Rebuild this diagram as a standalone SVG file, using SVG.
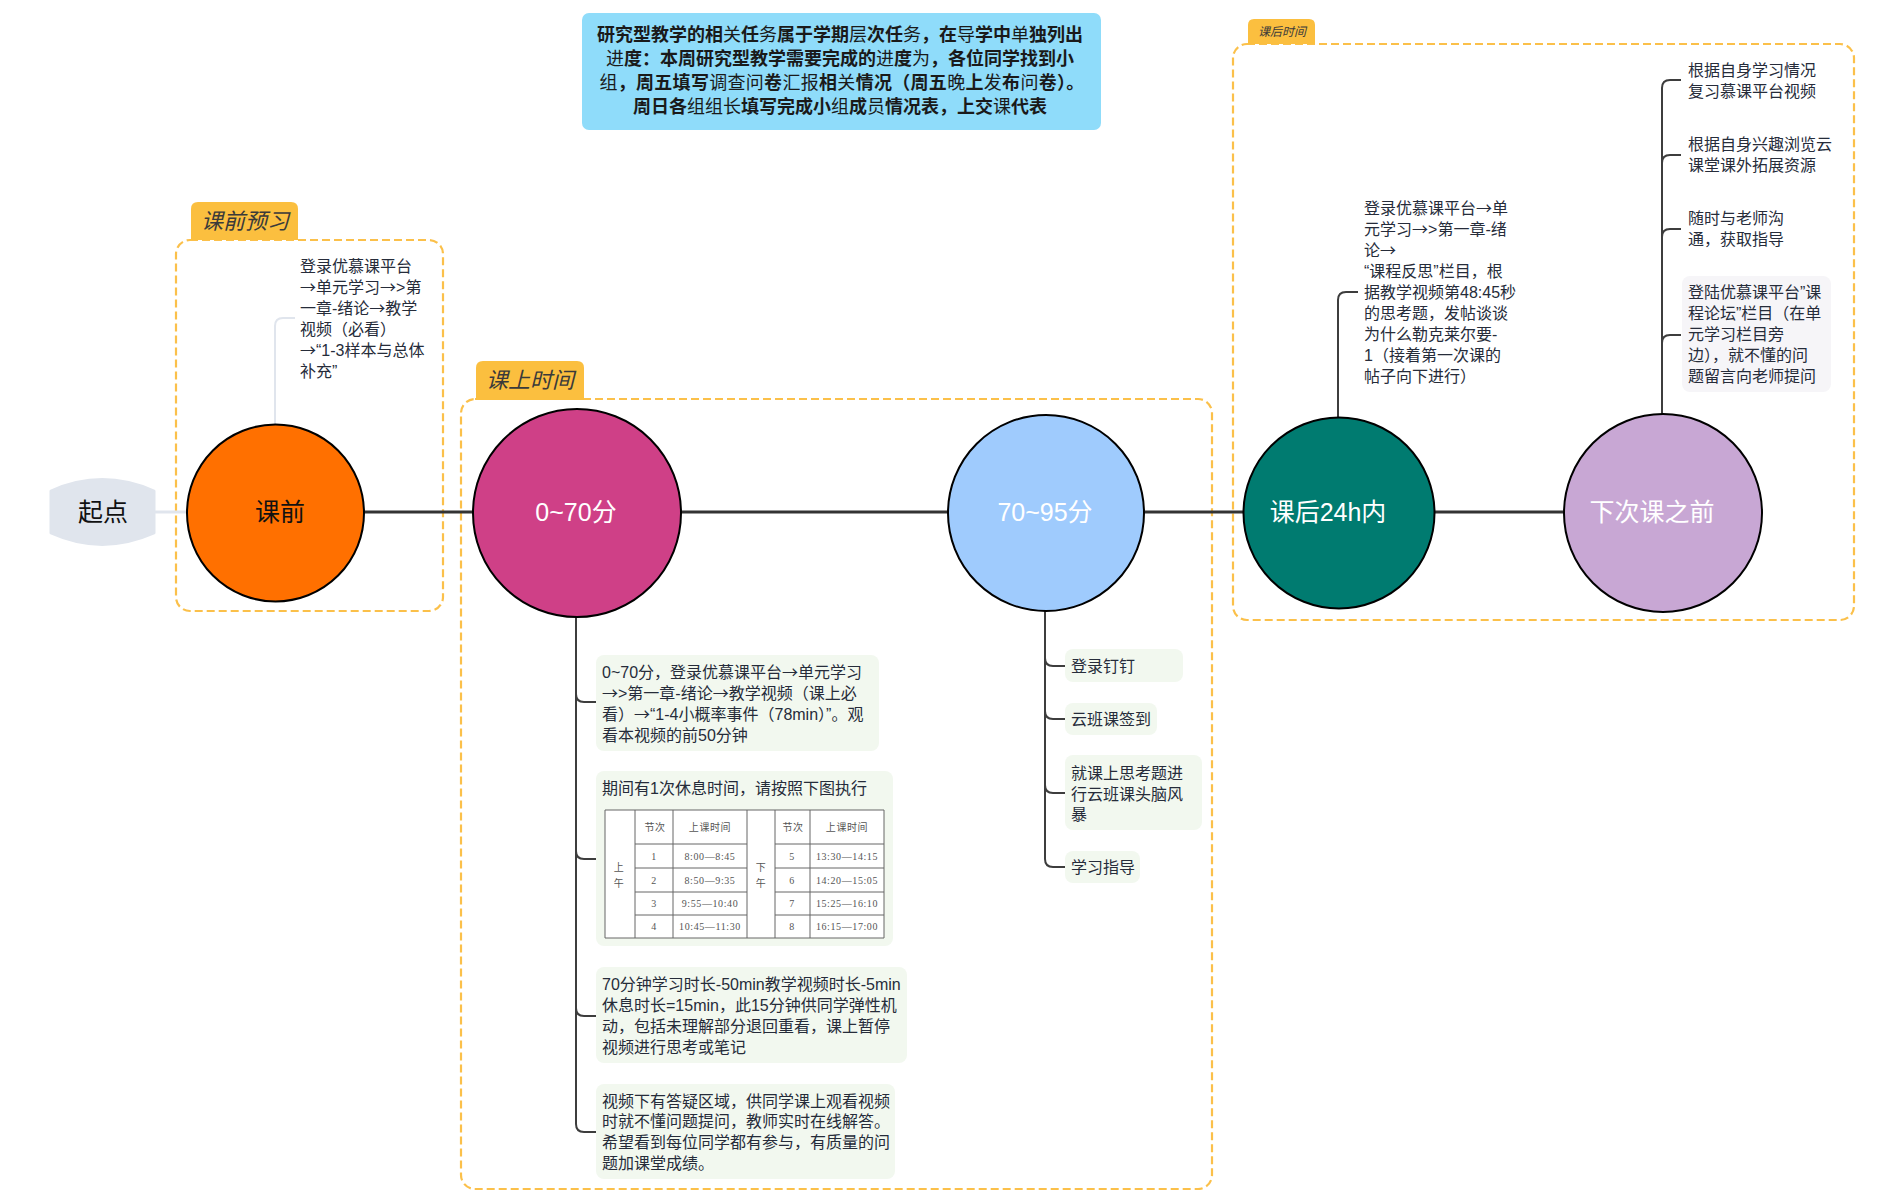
<svg xmlns="http://www.w3.org/2000/svg" width="1904" height="1190" viewBox="0 0 1904 1190">
<style>
text{font-family:"Liberation Sans","Noto Sans CJK SC",sans-serif}
.a{font-family:"Noto Sans CJK SC",sans-serif}
.t{font-size:16px;fill:#262c3a}
.n{font-size:25px;text-anchor:middle}
.c{stroke:#000;stroke-width:2}
.g{fill:none;stroke:#fbc04a;stroke-width:2.2;stroke-dasharray:8 4}
.tab{fill:#fbbf3f}
.tt{font-style:italic;text-anchor:middle;fill:#3a3a3a}
.b{fill:#f2f8ef}
.l{fill:none;stroke:#3d3d3d;stroke-width:2}
.sp{fill:none;stroke:#333;stroke-width:3}
.tl{stroke:#666;stroke-width:1;fill:none}
.td{font-size:10px;text-anchor:middle;fill:#555;letter-spacing:.6px;font-family:"Liberation Serif","Noto Sans CJK SC",serif}
.note{font-size:18px;text-anchor:middle;fill:#1a1a1a}
.note .s{font-weight:700}
</style>
<rect width="1904" height="1190" fill="#fff"/>

<g id="groups">
<rect class="g" x="176" y="240" width="267" height="371" rx="14"/>
<path class="tab" d="M191 240V209q0-7 7-7h93q7 0 7 7V240z"/>
<text class="tt" x="245" y="229" font-size="22">课前预习</text>
<rect class="g" x="461" y="399" width="751" height="790" rx="14"/>
<path class="tab" d="M476 400V368q0-7 7-7h94q7 0 7 7V400z"/>
<text class="tt" x="530" y="388" font-size="22">课上时间</text>
<rect class="g" x="1233" y="44" width="621" height="576" rx="14"/>
<path class="tab" d="M1248 44V25q0-6 6-6h55q6 0 6 6V44z"/>
<text class="tt" x="1282" y="36" font-size="12">课后时间</text>
</g>

<g id="connectors">
<path d="M155 512H187" fill="none" stroke="#e0e5ed" stroke-width="3"/>
<path class="sp" d="M364 512H473M681 512H948M1145 512H1243M1434 512H1563"/>
<path d="M275 424V326q0-8 8-8H295" fill="none" stroke="#e0e5ed" stroke-width="2"/>
<path class="l" d="M576 617V1124q0 8 8 8H596M576 694q0 8 8 8H596M576 851q0 8 8 8H596M576 1008q0 8 8 8H596"/>
<path class="l" d="M1045 611V859q0 8 8 8H1065M1045 658q0 8 8 8H1065M1045 711q0 8 8 8H1065M1045 785q0 8 8 8H1065"/>
<path class="l" d="M1338 418V300q0-8 8-8H1358"/>
<path class="l" d="M1662 414V88q0-8 8-8H1681M1662 163q0-8 8-8H1681M1662 237q0-8 8-8H1681M1662 343q0-8 8-8H1681"/>
</g>

<g id="start"><path d="M51 491Q102 468 154 491V533Q102 556 51 533Z" fill="#e0e5ed" stroke="#e0e5ed" stroke-width="3" stroke-linejoin="round"/><text class="n" x="103" y="521" fill="#111">起点</text></g>
<g id="n-pre"><circle class="c" cx="275.5" cy="513" r="88.5" fill="#ff7000"/><text class="n" x="280" y="521" fill="#111">课前</text></g>
<g id="n-070"><circle class="c" cx="577" cy="513" r="104" fill="#cf4087"/><text class="n" x="576" y="521" fill="#fff">0~70分</text></g>
<g id="n-7095"><circle class="c" cx="1046" cy="513" r="98" fill="#9fcbfd"/><text class="n" x="1045" y="521" fill="#fff">70~95分</text></g>
<g id="n-24h"><circle class="c" cx="1339" cy="513" r="95.5" fill="#007b70"/><text class="n" x="1328" y="521" fill="#fff">课后24h内</text></g>
<g id="n-next"><circle class="c" cx="1663" cy="513" r="99" fill="#c8a7d4"/><text class="n" x="1652" y="521" fill="#fff">下次课之前</text></g>

<g id="note">
<rect x="582" y="13" width="519" height="117" rx="7" fill="#8fdcfa"/>
<text class="note" x="840" y="41"><tspan class="s">研究型教学的相</tspan>关<tspan class="s">任</tspan>务<tspan class="s">属于学期</tspan>层<tspan class="s">次任</tspan>务<tspan class="s">，在</tspan>导<tspan class="s">学中</tspan>单<tspan class="s">独列出</tspan></text>
<text class="note" x="840" y="65">进<tspan class="s">度：本周研究型教学需要完成的</tspan>进<tspan class="s">度</tspan>为<tspan class="s">，各位同学找到小</tspan></text>
<text class="note" x="842" y="89" letter-spacing=".3">组<tspan class="s">，周五填写</tspan>调查问<tspan class="s">卷</tspan>汇报<tspan class="s">相</tspan>关<tspan class="s">情况（周五</tspan>晚<tspan class="s">上</tspan>发<tspan class="s">布</tspan>问<tspan class="s">卷）。</tspan></text>
<text class="note" x="840" y="113"><tspan class="s">周日各</tspan>组组长<tspan class="s">填写完成小</tspan>组<tspan class="s">成</tspan>员<tspan class="s">情况表，上交</tspan>课<tspan class="s">代表</tspan></text>
</g>

<g id="t-pre"><text class="t">
<tspan x="300" y="272">登录优慕课平台</tspan><tspan x="300" y="293"><tspan class="a">→</tspan>单元学习<tspan class="a">→</tspan>&gt;第</tspan><tspan x="300" y="314">一章-绪论<tspan class="a">→</tspan>教学</tspan><tspan x="300" y="335">视频（必看）</tspan><tspan x="300" y="356"><tspan class="a">→</tspan>“1-3样本与总体</tspan><tspan x="300" y="377">补充”</tspan></text></g>

<g id="b1"><rect class="b" x="596" y="655" width="283" height="96" rx="8"/><text class="t">
<tspan x="602" y="678">0~70分，登录优慕课平台<tspan class="a">→</tspan>单元学习</tspan><tspan x="602" y="699"><tspan class="a">→</tspan>&gt;第一章-绪论<tspan class="a">→</tspan>教学视频（课上必</tspan><tspan x="602" y="720">看）<tspan class="a">→</tspan>“1-4小概率事件（78min）”。观</tspan><tspan x="602" y="741">看本视频的前50分钟</tspan></text></g>

<g id="b2"><rect class="b" x="596" y="771" width="297" height="175" rx="8"/><text class="t" x="602" y="794">期间有1次休息时间，请按照下图执行</text>
<rect x="605" y="810" width="279" height="128" fill="#fff"/>
<path class="tl" d="M605 810H884M605 938H884M605 810V938M635 810V938M673 810V938M747 810V938M775 810V938M810 810V938M884 810V938M635 844H747M635 868H747M635 892H747M635 915H747M775 844H884M775 868H884M775 892H884M775 915H884"/>
<g class="td"><text class="td" x="619" y="871">上</text><text class="td" x="619" y="887">午</text><text class="td" x="761" y="871">下</text><text class="td" x="761" y="887">午</text>
<text class="td" x="655" y="831">节次</text><text class="td" x="710" y="831">上课时间</text><text class="td" x="793" y="831">节次</text><text class="td" x="847" y="831">上课时间</text>
<text class="td" x="654" y="860">1</text><text class="td" x="710" y="860">8:00—8:45</text><text class="td" x="792" y="860">5</text><text class="td" x="847" y="860">13:30—14:15</text>
<text class="td" x="654" y="884">2</text><text class="td" x="710" y="884">8:50—9:35</text><text class="td" x="792" y="884">6</text><text class="td" x="847" y="884">14:20—15:05</text>
<text class="td" x="654" y="907">3</text><text class="td" x="710" y="907">9:55—10:40</text><text class="td" x="792" y="907">7</text><text class="td" x="847" y="907">15:25—16:10</text>
<text class="td" x="654" y="930">4</text><text class="td" x="710" y="930">10:45—11:30</text><text class="td" x="792" y="930">8</text><text class="td" x="847" y="930">16:15—17:00</text></g></g>

<g id="b3"><rect class="b" x="596" y="967" width="311" height="96" rx="8"/><text class="t">
<tspan x="602" y="990">70分钟学习时长-50min教学视频时长-5min</tspan><tspan x="602" y="1011">休息时长=15min，此15分钟供同学弹性机</tspan><tspan x="602" y="1032">动，包括未理解部分退回重看，课上暂停</tspan><tspan x="602" y="1053">视频进行思考或笔记</tspan></text></g>

<g id="b4"><rect class="b" x="596" y="1084" width="299" height="95" rx="8"/><text class="t">
<tspan x="602" y="1107">视频下有答疑区域，供同学课上观看视频</tspan><tspan x="602" y="1127">时就不懂问题提问，教师实时在线解答。</tspan><tspan x="602" y="1148">希望看到每位同学都有参与，有质量的问</tspan><tspan x="602" y="1169">题加课堂成绩。</tspan></text></g>

<g id="c1"><rect class="b" x="1065" y="649" width="118" height="33" rx="8"/><text class="t" x="1071" y="672">登录钉钉</text></g>
<g id="c2"><rect class="b" x="1065" y="703" width="92" height="32" rx="8"/><text class="t" x="1071" y="725">云班课签到</text></g>
<g id="c3"><rect class="b" x="1065" y="755" width="137" height="75" rx="8"/><text class="t"><tspan x="1071" y="779">就课上思考题进</tspan><tspan x="1071" y="800">行云班课头脑风</tspan><tspan x="1071" y="820">暴</tspan></text></g>
<g id="c4"><rect class="b" x="1065" y="851" width="75" height="32" rx="8"/><text class="t" x="1071" y="873">学习指导</text></g>

<g id="t-24h"><text class="t"><tspan x="1364" y="214">登录优慕课平台<tspan class="a">→</tspan>单</tspan><tspan x="1364" y="235">元学习<tspan class="a">→</tspan>&gt;第一章-绪</tspan><tspan x="1364" y="256">论<tspan class="a">→</tspan></tspan><tspan x="1364" y="277">“课程反思”栏目，根</tspan><tspan x="1364" y="298">据教学视频第48:45秒</tspan><tspan x="1364" y="319">的思考题，发帖谈谈</tspan><tspan x="1364" y="340">为什么勒克莱尔要-</tspan><tspan x="1364" y="361">1（接着第一次课的</tspan><tspan x="1364" y="382">帖子向下进行）</tspan></text></g>

<g id="r1"><text class="t"><tspan x="1688" y="76">根据自身学习情况</tspan><tspan x="1688" y="97">复习慕课平台视频</tspan></text></g>
<g id="r2"><text class="t"><tspan x="1688" y="150">根据自身兴趣浏览云</tspan><tspan x="1688" y="171">课堂课外拓展资源</tspan></text></g>
<g id="r3"><text class="t"><tspan x="1688" y="224">随时与老师沟</tspan><tspan x="1688" y="245">通，获取指导</tspan></text></g>
<g id="r4"><rect x="1682" y="276" width="149" height="116" rx="8" fill="#f6f5f8"/><text class="t"><tspan x="1688" y="298">登陆优慕课平台”课</tspan><tspan x="1688" y="319">程论坛”栏目（在单</tspan><tspan x="1688" y="340">元学习栏目旁</tspan><tspan x="1688" y="361">边），就不懂的问</tspan><tspan x="1688" y="382">题留言向老师提问</tspan></text></g>
</svg>
